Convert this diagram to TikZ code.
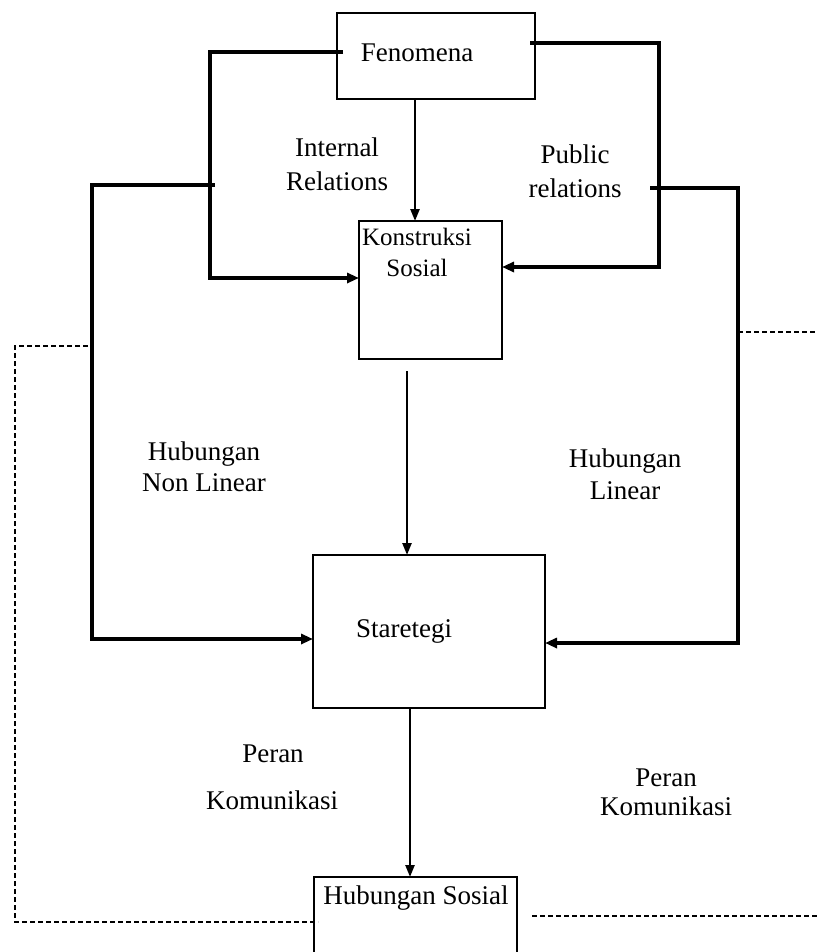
\documentclass[tikz,border=0pt]{standalone}
\usepackage{fontspec}
\setmainfont{Liberation Serif}
\usetikzlibrary{arrows.meta,calc}
\begin{document}
\begin{tikzpicture}[x=1pt,y=-1pt,
  box/.style={draw,line width=2.6pt,inner sep=0pt,outer sep=0pt},
  lbl/.style={font=\fontsize{27}{32}\selectfont,inner sep=0pt,anchor=base},
  slbl/.style={font=\fontsize{25}{30}\selectfont,inner sep=0pt,anchor=base},
  conn/.style={line width=3.4pt},
  tip/.style={-{Triangle[length=12pt,width=10pt]}},
  arr/.style={line width=2.4pt,-{Triangle[length=12pt,width=9pt]}},
  dsh/.style={line width=1.8pt,dash pattern=on 5pt off 3pt}]
\useasboundingbox (0,0) rectangle (817,952);
\clip (0,0) rectangle (817,952);
\fill[white] (0,0) rectangle (817,952);
% boxes
\node[box,minimum width=198pt,minimum height=86pt] (fen) at (436,56) {};
\node[box,minimum width=143pt,minimum height=138pt] (kon) at (430.5,290) {};
\node[box,minimum width=232pt,minimum height=153pt] (str) at (429,631.5) {};
\node[box,minimum width=203pt,minimum height=100pt] (hs) at (415.5,927) {};
% box texts
\node[lbl] (tfen) at (417,62) {Fenomena};
\node[slbl] (tkon1) at (417,245) {Konstruksi};
\node[slbl] (tkon2) at (417,276) {Sosial};
\node[lbl] (tstr) at (404,637) {Staretegi};
\node[lbl] (ths) at (416,904) {Hubungan Sosial};
% labels
\node[lbl] (ir1) at (337,157) {Internal};
\node[lbl] (ir2) at (337,190) {Relations};
\node[lbl] (pr1) at (575,164) {Public};
\node[lbl] (pr2) at (575,197) {relations};
\node[lbl] (hn1) at (204,460) {Hubungan};
\node[lbl] (hn2) at (204,491) {Non Linear};
\node[lbl] (hl1) at (625,467) {Hubungan};
\node[lbl] (hl2) at (625,499) {Linear};
\node[lbl] (pk1) at (273,762) {Peran};
\node[lbl] (pk2) at (272,809) {Komunikasi};
\node[lbl] (pk3) at (666,786) {Peran};
\node[lbl] (pk4) at (666,815) {Komunikasi};
% coordinates
\coordinate (p1) at (343,52);
\coordinate (p2) at (210,278);
\coordinate (q1) at (530,43);
\coordinate (q2) at (659,267);
\coordinate (r0) at (215,185);
\coordinate (r1) at (92,639);
\coordinate (s0) at (650,188);
\coordinate (s1) at (738,643);
\coordinate (c1) at (415,99);
\coordinate (c2) at (407,371);
\coordinate (c3) at (410,708);
\coordinate (d0) at (88,346);
\coordinate (d1) at (15,922);
\coordinate (d2) at (318,922);
\coordinate (e0) at (738,332);
\coordinate (e1) at (817,332);
\coordinate (f0) at (532,916);
\coordinate (f1) at (817,916);
% connectors
\draw[conn,tip] (p1) -| (p2) -- (kon.west |- p2);
\draw[conn,tip] (q1) -| (q2) -- (kon.east |- q2);
\draw[conn,tip] (r0) -| (r1) -- (str.west |- r1);
\draw[conn,tip] (s0) -| (s1) -- (str.east |- s1);
\draw[arr] (c1) -- (kon.north -| c1);
\draw[arr] (c2) -- (str.north -| c2);
\draw[arr] (c3) -- (hs.north -| c3);
\draw[dsh] (d0) -| (d1) -- (d2);
\draw[dsh] (e0) -- (e1);
\draw[dsh] (f0) -- (f1);
\end{tikzpicture}
\end{document}
